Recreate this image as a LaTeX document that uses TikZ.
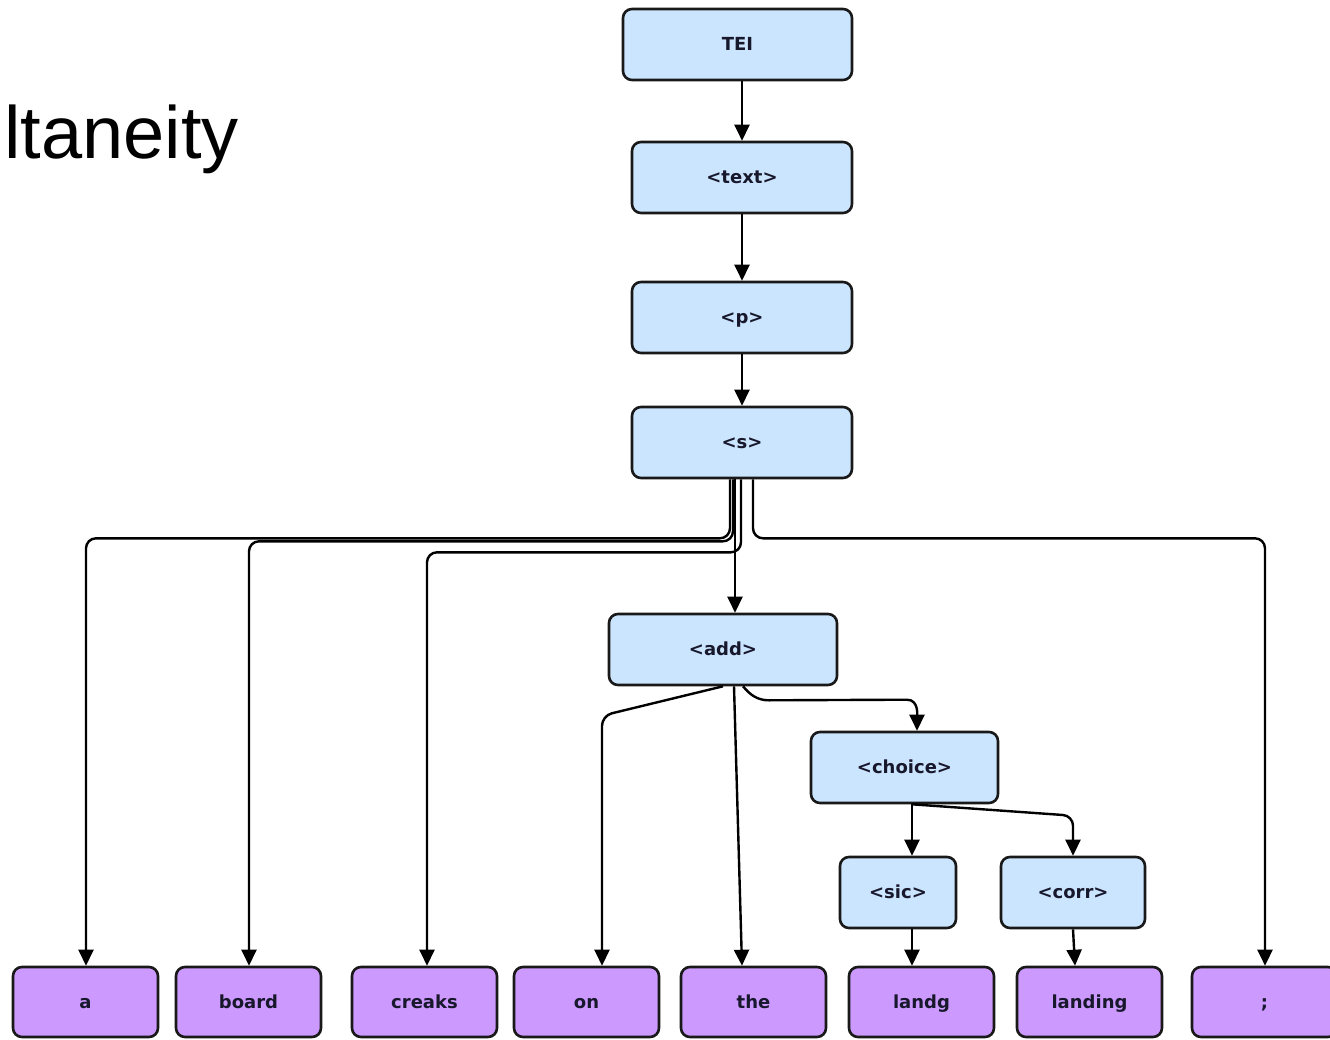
\documentclass[tikz,border=0pt]{standalone}
\usepackage{fontspec}
\setmainfont{DejaVu Sans}
\newfontfamily\titlefont{Liberation Sans}
\usetikzlibrary{arrows.meta,calc}
\definecolor{elemblue}{RGB}{204,229,255}
\definecolor{wordpurple}{RGB}{204,153,255}
\definecolor{labelink}{RGB}{24,24,44}
\begin{document}
\begin{tikzpicture}[x=1pt,y=-1pt,
    elem/.style={draw=black!90, line width=2.6pt, rounded corners=9pt, fill=elemblue,
      minimum width=220pt, minimum height=71pt, inner sep=0pt, text=labelink,
      text height=15pt, text depth=3pt,
      font=\bfseries\fontsize{18}{21}\selectfont},
    word/.style={elem, fill=wordpurple, minimum width=145pt, minimum height=70pt},
    arr/.style={-{Triangle[length=16pt,width=15pt]}, line width=2.4pt, rounded corners=10pt}]
            \useasboundingbox (0,0) rectangle (1330,1040);

            \node[anchor=base west, inner sep=0pt, font=\titlefont\fontsize{74}{80}\selectfont] (title) at (4,159) {ltaneity};

            \node[elem, minimum width=229pt] (tei) at (737.5,44.5) {TEI};
            \node[elem] (text) at (742,177.5) {<text>};
            \node[elem] (p) at (742,317.5) {<p>};
            \node[elem] (s) at (742,442.5) {<s>};
            \node[elem, minimum width=228pt] (add) at (723,649.5) {<add>};
            \node[elem, minimum width=187pt] (choice) at (904.5,767.5) {<choice>};
            \node[elem, minimum width=116pt] (sic) at (898,892.5) {<sic>};
            \node[elem, minimum width=144pt] (corr) at (1073,892.5) {<corr>};

            \node[word] (a) at (85.5,1002) {a};
            \node[word] (board) at (248.5,1002) {board};
            \node[word] (creaks) at (424.5,1002) {creaks};
            \node[word] (on) at (586.5,1002) {on};
            \node[word] (the) at (753.5,1002) {the};
            \node[word] (landg) at (921.5,1002) {landg};
            \node[word] (landing) at (1089.5,1002) {landing};
            \node[word] (semi) at (1264.5,1002) {;};

            \draw[arr] ($(tei.south)+(4.5,0)$) -- (text.north);
            \draw[arr] (text.south) -- (p.north);
            \draw[arr] (p.south) -- (s.north);

            \draw[arr] ($(s.south)+(-12,0)$) -- ($(s.south)+(-12,59)$) -| ($(a.north)+(0.5,0)$);
            \draw[arr] ($(s.south)+(-9,0)$) -- ($(s.south)+(-9,62)$) -| ($(board.north)+(0.5,0)$);
            \draw[arr] ($(s.south)+(-1,0)$) -- ($(s.south)+(-1,73)$) -| ($(creaks.north)+(2.5,0)$);
            \draw[arr] ($(s.south)+(-7,0)$) -- ($(add.north)+(12,0)$);
            \draw[arr] ($(s.south)+(11,0)$) -- ($(s.south)+(11,59)$) -| ($(semi.north)+(0.5,0)$);

            \draw[arr] (add.south) -- ($(on.north)+(15.5,-250)$) -- ($(on.north)+(15.5,0)$);
            \draw[arr] ($(add.south)+(11,0)$) -- ($(the.north)+(-11.5,0)$);
            \draw[arr, sharp corners] ($(add.south)+(20,0)$) to[out=-50,in=180] ($(add.south)+(46,14)$)
                -- ($(choice.north)+(2.5,-31)$) to[out=0,in=90] ($(choice.north)+(12.5,0)$);

            \draw[arr] ($(choice.south)+(7.5,0)$) -- ($(sic.north)+(14,0)$);
            \draw[arr] ($(choice.south)+(7.5,0)$) -- ($(corr.north)+(0,-40)$) -- (corr.north);
            \draw[arr] ($(sic.south)+(14,0)$) -- ($(landg.north)+(-9.5,0)$);
            \draw[arr] (corr.south) -- ($(landing.north)+(-14.5,0)$);
        \end{tikzpicture}
\end{document}
